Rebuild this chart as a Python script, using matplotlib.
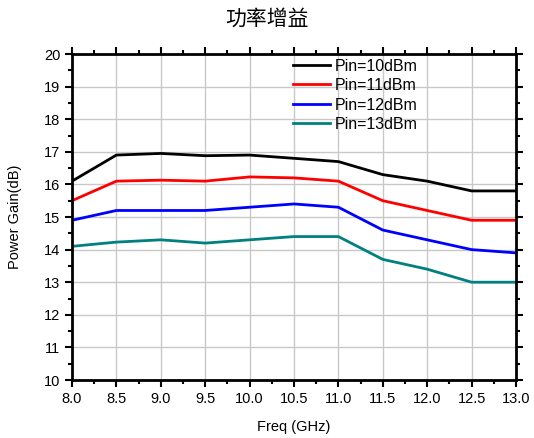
import matplotlib
matplotlib.use("Agg")
import matplotlib.pyplot as plt
from matplotlib.ticker import MultipleLocator

plt.rcParams['font.family'] = ['Liberation Sans', 'DejaVu Sans']

# frequency points (GHz)
freq = [8.0, 8.5, 9.0, 9.5, 10.0, 10.5, 11.0, 11.5, 12.0, 12.5, 13.0]

# power gain (dB) for each input power
gain_10 = [16.1, 16.9, 16.95, 16.88, 16.9, 16.8, 16.7, 16.3, 16.1, 15.8, 15.8]
gain_11 = [15.5, 16.1, 16.13, 16.1, 16.23, 16.2, 16.1, 15.5, 15.2, 14.9, 14.9]
gain_12 = [14.9, 15.2, 15.2, 15.2, 15.3, 15.4, 15.3, 14.6, 14.3, 14.0, 13.9]
gain_13 = [14.1, 14.23, 14.3, 14.2, 14.3, 14.4, 14.4, 13.7, 13.4, 13.0, 13.0]

labels = ['Pin=10dBm', 'Pin=11dBm', 'Pin=12dBm', 'Pin=13dBm']
colors = ['black', 'red', 'blue', '#008080']

fig = plt.figure(figsize=(5.34, 4.38), dpi=100)
ax = fig.add_axes([0.1348, 0.1324, 0.8315, 0.7443])

for g, lab, c in zip([gain_10, gain_11, gain_12, gain_13], labels, colors):
    ax.plot(freq, g, color=c, lw=2, label=lab)

ax.set_xlim(8, 13)
ax.set_ylim(10, 20)
ax.xaxis.set_major_locator(MultipleLocator(0.5))
ax.xaxis.set_minor_locator(MultipleLocator(0.25))
ax.yaxis.set_major_locator(MultipleLocator(1))
ax.yaxis.set_minor_locator(MultipleLocator(0.5))
ax.xaxis.set_major_formatter(matplotlib.ticker.FormatStrFormatter('%.1f'))

ax.grid(True, which='major', color='#c8c8c8', lw=1)
ax.set_axisbelow(True)

ax.tick_params(which='both', direction='out', labelsize=10.5, width=1.5)
ax.tick_params(which='major', length=5)
ax.tick_params(which='minor', length=3)
ax.tick_params(which='both', top=True, right=True)
for s in ax.spines.values():
    s.set_linewidth(2)

ax.set_xlabel('Freq (GHz)', fontsize=10.5, labelpad=10)
ax.set_ylabel('Power Gain(dB)', fontsize=10.5, labelpad=16)

fig.text(0.5, 0.958, '功率增益', ha='center', va='center', fontsize=15,
         family=['Noto Sans CJK SC', 'DejaVu Sans'], weight='light')

ax.legend(loc='upper left', bbox_to_anchor=(0.498, 0.986), frameon=False, fontsize=11.5,
          handlelength=2.3, labelspacing=0.28, handletextpad=0.3,
          borderpad=0, borderaxespad=0)

fig.savefig('out.png', dpi=100)
